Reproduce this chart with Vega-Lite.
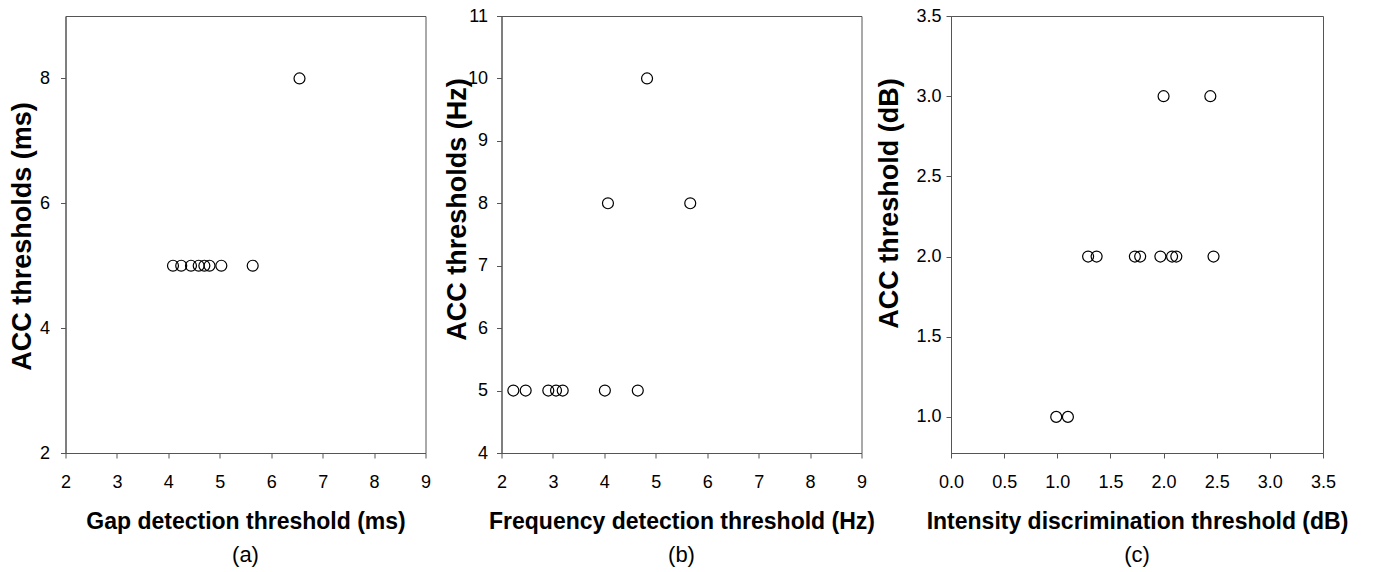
{
  "$schema": "https://vega.github.io/schema/vega-lite/v6.json",
  "padding": {"left": 7.5, "top": 6, "right": 5, "bottom": 5},
  "background": "white",
  "datasets": {
    "gap": [
      {"gdt": 4.09, "acc": 5},
      {"gdt": 4.25, "acc": 5},
      {"gdt": 4.44, "acc": 5},
      {"gdt": 4.59, "acc": 5},
      {"gdt": 4.70, "acc": 5},
      {"gdt": 4.80, "acc": 5},
      {"gdt": 5.03, "acc": 5},
      {"gdt": 5.64, "acc": 5},
      {"gdt": 6.55, "acc": 8}
    ],
    "freq": [
      {"fdt": 2.23, "acc": 5},
      {"fdt": 2.47, "acc": 5},
      {"fdt": 2.91, "acc": 5},
      {"fdt": 3.06, "acc": 5},
      {"fdt": 3.19, "acc": 5},
      {"fdt": 4.01, "acc": 5},
      {"fdt": 4.65, "acc": 5},
      {"fdt": 4.07, "acc": 8},
      {"fdt": 5.67, "acc": 8},
      {"fdt": 4.83, "acc": 10}
    ],
    "inten": [
      {"idt": 0.99, "acc": 1},
      {"idt": 1.10, "acc": 1},
      {"idt": 1.29, "acc": 2},
      {"idt": 1.37, "acc": 2},
      {"idt": 1.73, "acc": 2},
      {"idt": 1.78, "acc": 2},
      {"idt": 1.97, "acc": 2},
      {"idt": 2.08, "acc": 2},
      {"idt": 2.12, "acc": 2},
      {"idt": 2.47, "acc": 2},
      {"idt": 2.00, "acc": 3},
      {"idt": 2.44, "acc": 3}
    ]
  },
  "config": {
    "view": {"stroke": "#555555", "strokeWidth": 1},
    "axis": {
      "grid": false,
      "domainColor": "#555555",
      "tickColor": "#555555",
      "tickSize": 5,
      "labelFont": "Liberation Sans",
      "labelFontSize": 18,
      "labelColor": "#000000",
      "titleFont": "Liberation Sans",
      "titleFontWeight": "bold",
      "titleColor": "#000000",
      "labelFlush": false,
      "labelOverlap": false
    },
    "axisX": {"labelPadding": 15, "titleY": 68, "titleBaseline": "middle", "titleFontSize": 23},
    "axisY": {"titleBaseline": "middle", "titleFontSize": 27},
    "title": {"font": "Liberation Sans", "fontSize": 22, "fontWeight": "normal", "color": "#000000", "orient": "bottom", "anchor": "middle", "offset": 12}
  },
  "spacing": -1.5,
  "hconcat": [
    {
      "spacing": 11,
      "hconcat": [
        {
          "width": 360,
          "height": 437,
          "title": "(a)",
          "data": {"name": "gap"},
          "mark": {"type": "point", "shape": "circle", "size": 120, "filled": false, "color": "#000000", "strokeWidth": 1.2, "opacity": 1},
          "encoding": {
            "x": {"field": "gdt", "type": "quantitative", "scale": {"domain": [2, 9], "nice": false, "zero": false},
                  "axis": {"title": "Gap detection threshold (ms)", "values": [2, 3, 4, 5, 6, 7, 8, 9]}},
            "y": {"field": "acc", "type": "quantitative", "scale": {"domain": [2, 9], "nice": false, "zero": false},
                  "axis": {"title": "ACC thresholds (ms)", "values": [2, 4, 6, 8], "labelPadding": 11, "titleX": -43, "titleY": 220}}
          }
        },
        {
          "width": 360,
          "height": 437,
          "title": "(b)",
          "data": {"name": "freq"},
          "mark": {"type": "point", "shape": "circle", "size": 120, "filled": false, "color": "#000000", "strokeWidth": 1.2, "opacity": 1},
          "encoding": {
            "x": {"field": "fdt", "type": "quantitative", "scale": {"domain": [2, 9], "nice": false, "zero": false},
                  "axis": {"title": "Frequency detection threshold (Hz)", "values": [2, 3, 4, 5, 6, 7, 8, 9]}},
            "y": {"field": "acc", "type": "quantitative", "scale": {"domain": [4, 11], "nice": false, "zero": false},
                  "axis": {"title": "ACC thresholds (Hz)", "values": [4, 5, 6, 7, 8, 9, 10, 11], "labelPadding": 9, "titleX": -44, "titleY": 193}}
          }
        }
      ]
    },
    {
      "width": 372,
      "height": 437,
      "title": "(c)",
      "data": {"name": "inten"},
      "mark": {"type": "point", "shape": "circle", "size": 120, "filled": false, "color": "#000000", "strokeWidth": 1.2, "opacity": 1},
      "encoding": {
        "x": {"field": "idt", "type": "quantitative", "scale": {"domain": [0, 3.5], "nice": false, "zero": false},
              "axis": {"title": "Intensity discrimination threshold (dB)", "values": [0, 0.5, 1, 1.5, 2, 2.5, 3, 3.5], "format": ".1f"}},
        "y": {"field": "acc", "type": "quantitative", "scale": {"domain": [0.775, 3.5], "nice": false, "zero": false},
              "axis": {"title": "ACC threshold (dB)", "values": [1, 1.5, 2, 2.5, 3, 3.5], "format": ".1f", "labelPadding": 5, "titleX": -62, "titleY": 187}}
      }
    }
  ]
}
